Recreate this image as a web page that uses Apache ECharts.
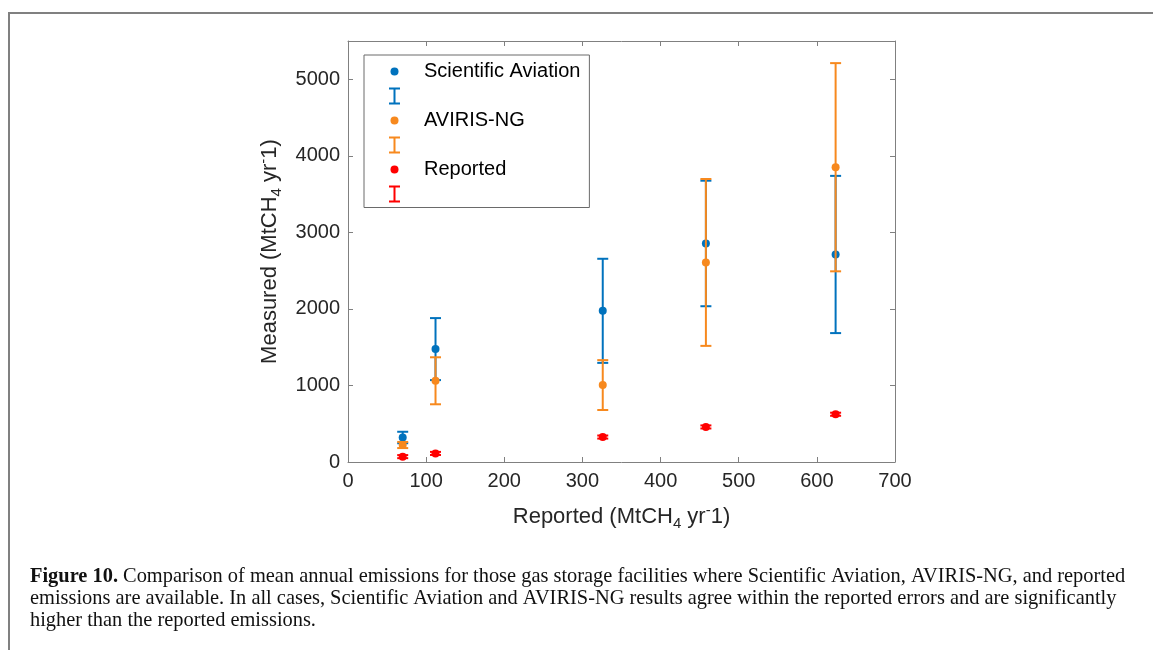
<!DOCTYPE html>
<html><head><meta charset="utf-8">
<script src="https://cdn.jsdelivr.net/npm/echarts@6/dist/echarts.min.js"></script>
<style>html,body{margin:0;padding:0;background:#fff}#c{width:1153px;height:650px}</style>
</head><body><div id="c"></div>
<script>
// ---- data ----
const reportedX = [70, 112, 326, 458, 624];
const saMean = [320, 1475, 1975, 2855, 2711];
const saErr  = [75, 405, 680, 820, 1027];
const avMean = [222, 1061, 1005, 2607, 3851];
const avErr  = [40, 307, 326, 1090, 1360];
const repMean = [70, 112, 326, 458, 624];
const repErr  = [20, 20, 20, 20, 20];
const xTickLabels = [0, 100, 200, 300, 400, 500, 600, 700];
const yTickLabels = [0, 1000, 2000, 3000, 4000, 5000];
const seriesNames = ['Scientific Aviation', 'AVIRIS-NG', 'Reported'];
const captionBold = 'Figure 10.';
const captionLines = [
  ' Comparison of mean annual emissions for those gas storage facilities where Scientific Aviation, AVIRIS-NG, and reported',
  'emissions are available. In all cases, Scientific Aviation and AVIRIS-NG results agree within the reported errors and are significantly',
  'higher than the reported emissions.'
];

const BLUE = '#0072BD', ORANGE = '#F7891E', RED = '#FF0000';
const AXIS = '#808080', TXT = '#262626';
const FONT = '"Liberation Sans", Arial, sans-serif';
const SERIF = '"Liberation Serif", "Times New Roman", serif';

function errData(means, errs) {
  return reportedX.map((x, i) => [x, means[i] - errs[i], means[i] + errs[i]]);
}
function errRender(color, cap, lw) {
  return function (params, api) {
    const x = api.value(0), lo = api.value(1), hi = api.value(2);
    const a = api.coord([x, lo]), b = api.coord([x, hi]);
    const st = { stroke: color, lineWidth: lw, fill: null };
    return { type: 'group', children: [
      { type: 'line', shape: { x1: a[0], y1: a[1], x2: b[0], y2: b[1] }, style: st },
      { type: 'line', shape: { x1: a[0] - cap, y1: a[1], x2: a[0] + cap, y2: a[1] }, style: st },
      { type: 'line', shape: { x1: b[0] - cap, y1: b[1], x2: b[0] + cap, y2: b[1] }, style: st }
    ]};
  };
}
const pts = (means) => reportedX.map((x, i) => [x, means[i]]);

const I_ICON = 'path://M0,0H11V2H6.5V15H11V17H0V15H4.5V2H0Z';
const DOT_ICON = 'path://M0,0L0,0M11,17L11,17M1.5,8.5A4,4,0,1,1,9.5,8.5A4,4,0,1,1,1.5,8.5Z';
const errNames = ['sa_err', 'av_err', 'rep_err'];

const nameRich = {
  n: { fontSize: 22, lineHeight: 28, color: TXT, fontFamily: FONT },
  sub: { fontSize: 15, lineHeight: 15, verticalAlign: 'bottom', color: TXT, fontFamily: FONT },
  sup: { fontSize: 15, lineHeight: 15, verticalAlign: 'top', color: TXT, fontFamily: FONT }
};

function axisCommon() {
  return {
    axisLine: { show: true, onZero: false, lineStyle: { color: AXIS, width: 1 } },
    axisTick: { show: true, inside: true, length: 5, lineStyle: { color: AXIS } },
    splitLine: { show: false }
  };
}

const chart = echarts.init(document.getElementById('c'), null, { renderer: 'canvas' });
chart.setOption({
  animation: false,
  backgroundColor: '#fff',
  grid: { left: 348, right: 258, top: 41, bottom: 188 },
  xAxis: [
    Object.assign({
      type: 'value', position: 'bottom', min: 0, max: 700, interval: 100,
      axisLabel: { fontSize: 20, color: TXT, fontFamily: FONT, margin: 9,
        formatter: v => xTickLabels.includes(v) ? String(v) : '' },
      name: '{n|Reported (MtCH}{sub|4}{n| yr}{sup|-}{n|1)}',
      nameLocation: 'middle', nameGap: 41,
      nameTextStyle: { rich: nameRich }
    }, axisCommon()),
    Object.assign({
      type: 'value', position: 'top', min: 0, max: 700, interval: 100,
      axisLabel: { show: false }
    }, axisCommon())
  ],
  yAxis: [
    Object.assign({
      type: 'value', position: 'left', min: 0, max: 5500, interval: 1000,
      axisLabel: { fontSize: 20, color: TXT, fontFamily: FONT, margin: 8,
        formatter: v => yTickLabels.includes(v) ? String(v) : '' },
      name: '{n|Measured (MtCH}{sub|4}{n| yr}{sup|-}{n|1)}',
      nameLocation: 'middle', nameGap: 64,
      nameTextStyle: { rich: nameRich }
    }, axisCommon()),
    Object.assign({
      type: 'value', position: 'right', min: 0, max: 5500, interval: 1000,
      axisLabel: { show: false }
    }, axisCommon())
  ],
  legend: {
    orient: 'vertical', left: 364, top: 55,
    padding: [6.5, 9, 5, 25],
    itemWidth: 11, itemHeight: 17, itemGap: 6, itemTextGap: 5,
    borderColor: '#6a6a6a', borderWidth: 1, backgroundColor: '#fff',
    selectedMode: false,
    textStyle: { fontSize: 20, lineHeight: 17, color: '#000', fontFamily: FONT, padding: [0, 0, 0, 19] },
    formatter: n => errNames.includes(n) ? '' : n,
    data: [
      { name: seriesNames[0], icon: DOT_ICON },
      { name: 'sa_err', icon: I_ICON },
      { name: seriesNames[1], icon: DOT_ICON },
      { name: 'av_err', icon: I_ICON },
      { name: seriesNames[2], icon: DOT_ICON },
      { name: 'rep_err', icon: I_ICON }
    ]
  },
  title: {
    left: 30, top: 566, padding: 0,
    text: '{b|' + captionBold + '}' + '{r|' + captionLines[0] + '}\n{r|' + captionLines[1] + '}\n{r|' + captionLines[2] + '}',
    textStyle: {
      fontWeight: 'normal',
      rich: {
        b: { fontFamily: SERIF, fontWeight: 'bold', fontSize: 20.4, lineHeight: 22, color: '#111' },
        r: { fontFamily: SERIF, fontWeight: 'normal', fontSize: 20.4, lineHeight: 22, color: '#111' }
      }
    }
  },
  graphic: [
    { type: 'line', shape: { x1: 8, y1: 13, x2: 1153, y2: 13 }, style: { stroke: '#808080', lineWidth: 2 } },
    { type: 'line', shape: { x1: 9, y1: 12, x2: 9, y2: 650 }, style: { stroke: '#808080', lineWidth: 2 } }
  ],
  series: [
    { name: 'sa_err', type: 'custom', itemStyle: { color: BLUE }, renderItem: errRender(BLUE, 5.5, 2),
      data: errData(saMean, saErr), encode: { x: 0, y: [1, 2] }, z: 2 },
    { name: seriesNames[0], type: 'scatter', symbol: 'circle', symbolSize: 8, itemStyle: { color: BLUE, opacity: 1 },
      data: pts(saMean), z: 3 },
    { name: 'av_err', type: 'custom', itemStyle: { color: ORANGE }, renderItem: errRender(ORANGE, 5.5, 2),
      data: errData(avMean, avErr), encode: { x: 0, y: [1, 2] }, z: 4 },
    { name: seriesNames[1], type: 'scatter', symbol: 'circle', symbolSize: 8, itemStyle: { color: ORANGE, opacity: 1 },
      data: pts(avMean), z: 5 },
    { name: 'rep_err', type: 'custom', itemStyle: { color: RED }, renderItem: errRender(RED, 5.5, 2),
      data: errData(repMean, repErr), encode: { x: 0, y: [1, 2] }, z: 6 },
    { name: seriesNames[2], type: 'scatter', symbol: 'circle', symbolSize: 8, itemStyle: { color: RED, opacity: 1 },
      data: pts(repMean), z: 7 }
  ]
});
</script>
</body></html>
